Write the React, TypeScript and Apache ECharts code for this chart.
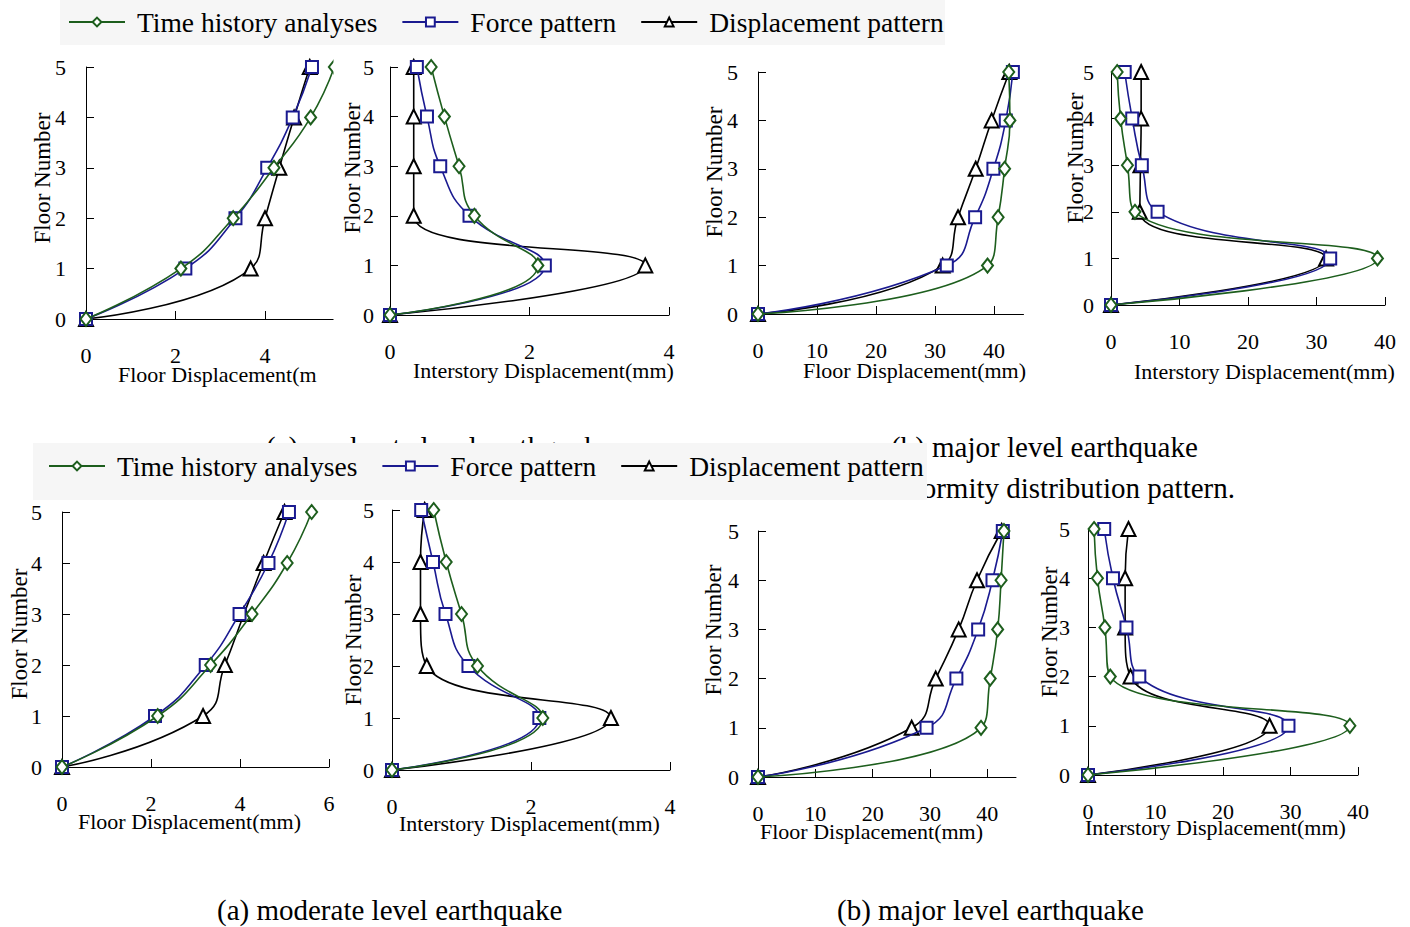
import React, { useEffect, useRef } from 'react';
import * as echarts from 'echarts';

const FLOORS = [0, 1, 2, 3, 4, 5];
const SERIES_NAMES = ['Time history analyses', 'Force pattern', 'Displacement pattern'];

// upper figure – moderate level earthquake
const upModFloorTime = [0, 2.12, 3.29, 4.2, 5.02, 5.55];
const upModFloorForce = [0, 2.22, 3.34, 4.05, 4.62, 5.05];
const upModFloorDisp = [0, 3.68, 4.0, 4.32, 4.65, 5.0];
const upModStoryTime = [0, 2.12, 1.21, 0.99, 0.78, 0.59];
const upModStoryForce = [0, 2.22, 1.14, 0.72, 0.53, 0.385];
const upModStoryDisp = [0, 3.66, 0.34, 0.34, 0.34, 0.34];
// upper figure – major level earthquake
const upMajFloorTime = [0, 38.9, 40.7, 41.8, 42.7, 42.5];
const upMajFloorForce = [0, 32.0, 36.8, 39.9, 42.0, 43.2];
const upMajFloorDisp = [0, 31.3, 33.9, 36.9, 39.6, 42.6];
const upMajStoryTime = [0, 38.9, 3.5, 2.4, 1.4, 0.9];
const upMajStoryForce = [0, 32.0, 6.8, 4.5, 3.1, 2.0];
const upMajStoryDisp = [0, 31.4, 4.2, 4.3, 4.4, 4.4];
// lower figure – moderate level earthquake
const loModFloorTime = [0, 2.15, 3.34, 4.27, 5.06, 5.61];
const loModFloorForce = [0, 2.09, 3.23, 3.99, 4.64, 5.1];
const loModFloorDisp = [0, 3.17, 3.66, 4.09, 4.53, 5.0];
const loModStoryTime = [0, 2.17, 1.23, 1.0, 0.78, 0.6];
const loModStoryForce = [0, 2.12, 1.1, 0.77, 0.59, 0.42];
const loModStoryDisp = [0, 3.15, 0.5, 0.41, 0.41, 0.47];
// lower figure – major level earthquake
const loMajFloorTime = [0, 38.9, 40.5, 41.8, 42.4, 42.9];
const loMajFloorForce = [0, 29.4, 34.6, 38.4, 40.9, 42.7];
const loMajFloorDisp = [0, 26.8, 31.0, 35.0, 38.2, 42.5];
const loMajStoryTime = [0, 38.8, 3.3, 2.5, 1.4, 0.9];
const loMajStoryForce = [0, 29.7, 7.6, 5.7, 3.7, 2.4];
const loMajStoryDisp = [0, 26.9, 6.3, 5.5, 5.5, 6.0];

const MOD4_TICKS = [0, 2, 4];
const MOD6_TICKS = [0, 2, 4, 6];
const MAJ_TICKS = [0, 10, 20, 30, 40];

const X_TITLE_FLOOR = 'Floor Displacement(mm)';
const X_TITLE_FLOOR_CUT = 'Floor Displacement(m';
const X_TITLE_STORY = 'Interstory Displacement(mm)';
const Y_TITLE = 'Floor Number';
const CAPTION_A = '(a) moderate level earthquake';
const CAPTION_B = '(b) major level earthquake';
const CAPTION_TAIL = 'ormity distribution pattern.';

const FONT = 'Liberation Serif';
const COLORS = ['#1d5e1d', '#1a1a90', '#000000'];
const SYMBOLS = ['emptyDiamond', 'emptyRect', 'emptyTriangle'];
const SYMBOL_SIZES: any[] = [[11, 14], 12, 14];

const PANELS = [
  { data: [upModFloorTime, upModFloorForce, upModFloorDisp], ticks: MOD4_TICKS, max: 6, interval: 2,
    box: [86, 67, 268.5, 252], yMargin: 20, yTitle: [42, 178], xTitle: [X_TITLE_FLOOR_CUT, 118, 374] },
  { data: [upModStoryTime, upModStoryForce, upModStoryDisp], ticks: MOD4_TICKS, max: 4, interval: 2,
    box: [390, 67, 279, 248], yMargin: 16, yTitle: [352, 168], xTitle: [X_TITLE_STORY, 413, 370] },
  { data: [upMajFloorTime, upMajFloorForce, upMajFloorDisp], ticks: MAJ_TICKS, max: 45, interval: 10,
    box: [758, 72, 265.5, 242], yMargin: 20, yTitle: [714, 172], xTitle: [X_TITLE_FLOOR, 803, 370] },
  { data: [upMajStoryTime, upMajStoryForce, upMajStoryDisp], ticks: MAJ_TICKS, max: 40, interval: 10,
    box: [1111, 72, 274, 233], yMargin: 17, yTitle: [1075, 158], xTitle: [X_TITLE_STORY, 1134, 371] },
  { data: [loModFloorTime, loModFloorForce, loModFloorDisp], ticks: MOD6_TICKS, max: 6, interval: 2,
    box: [62, 512, 267, 255], yMargin: 20, yTitle: [19, 634], xTitle: [X_TITLE_FLOOR, 78, 821] },
  { data: [loModStoryTime, loModStoryForce, loModStoryDisp], ticks: MOD4_TICKS, max: 4, interval: 2,
    box: [392, 510, 278, 260], yMargin: 18, yTitle: [353, 640], xTitle: [X_TITLE_STORY, 399, 823] },
  { data: [loMajFloorTime, loMajFloorForce, loMajFloorDisp], ticks: MAJ_TICKS, max: 45, interval: 10,
    box: [758, 531, 258, 246], yMargin: 19, yTitle: [713, 630], xTitle: [X_TITLE_FLOOR, 760, 831] },
  { data: [loMajStoryTime, loMajStoryForce, loMajStoryDisp], ticks: MAJ_TICKS, max: 40, interval: 10,
    box: [1088, 529, 270, 246], yMargin: 18, yTitle: [1049, 632], xTitle: [X_TITLE_STORY, 1085, 827] },
];

function txt(text: string, x: number, y: number, size: number, align = 'left', z = 1, rotation = 0) {
  return {
    type: 'text', x, y, z, rotation,
    style: { text, fontFamily: FONT, fontSize: size, fill: '#000', align, verticalAlign: 'middle' },
  };
}

export default function App() {
  const ref = useRef<HTMLDivElement>(null);
  useEffect(() => {
    if (!ref.current) return;
    const chart = echarts.init(ref.current, undefined, { renderer: 'svg' });

    const grid = PANELS.map((p) => ({ left: p.box[0], top: p.box[1], width: p.box[2], height: p.box[3] }));
    const xAxis = PANELS.map((p, i) => ({
      type: 'value', gridIndex: i, min: 0, max: p.max, interval: p.interval,
      axisLine: { show: true, onZero: false, lineStyle: { color: '#000', width: 1 } },
      axisTick: { show: true, inside: true, length: 8, lineStyle: { color: '#000' }, customValues: p.ticks },
      axisLabel: {
        customValues: p.ticks, margin: 25, fontFamily: FONT, fontSize: 22, color: '#000',
        formatter: (v: number) => (p.ticks.indexOf(v) >= 0 ? String(v) : ''),
      },
      splitLine: { show: false },
    }));
    const yAxis = PANELS.map((p, i) => ({
      type: 'value', gridIndex: i, min: 0, max: 5, interval: 1,
      axisLine: { show: true, onZero: false, lineStyle: { color: '#000', width: 1 } },
      axisTick: { show: true, inside: true, length: 8, lineStyle: { color: '#000' } },
      axisLabel: { margin: p.yMargin, fontFamily: FONT, fontSize: 22, color: '#000' },
      splitLine: { show: false },
    }));
    const series: any[] = [];
    PANELS.forEach((p, i) => {
      p.data.forEach((vals, k) => {
        series.push({
          type: 'line', name: SERIES_NAMES[k], xAxisIndex: i, yAxisIndex: i,
          data: FLOORS.map((f, j) => [vals[j], f]),
          smooth: 0.5, clip: false,
          symbol: SYMBOLS[k], symbolSize: SYMBOL_SIZES[k],
          lineStyle: { color: COLORS[k], width: 1.6 },
          itemStyle: { color: COLORS[k], borderWidth: 1.6 },
          z: 2 + (2 - k),
        });
      });
    });

    const legendBase = {
      data: SERIES_NAMES, padding: 0, itemWidth: 56, itemHeight: 11, itemGap: 24,
      textStyle: { fontFamily: FONT, fontSize: 27.5, color: '#000', padding: [0, 0, 0, 7], lineHeight: 30 },
      z: 10,
    };

    const graphic: any[] = [
      { type: 'rect', z: 0, shape: { x: 60, y: 0, width: 885, height: 45 }, style: { fill: '#f6f6f6' } },
      txt(CAPTION_A, 266, 447, 29, 'left', 1),
      txt(CAPTION_B, 891, 447, 29, 'left', 1),
      txt(CAPTION_TAIL, 1235, 488, 29, 'right', 1),
      { type: 'rect', z: 3, shape: { x: 33, y: 443, width: 894, height: 57 }, style: { fill: '#f6f6f6' } },
      txt(CAPTION_A, 217, 910, 29, 'left', 1),
      txt(CAPTION_B, 837, 910, 29, 'left', 1),
      { type: 'rect', z: 7, shape: { x: 333.5, y: 50, width: 23, height: 345 }, style: { fill: '#ffffff' } },
    ];
    PANELS.forEach((p) => {
      graphic.push(txt(Y_TITLE, p.yTitle[0], p.yTitle[1], 23, 'center', 8, Math.PI / 2));
      graphic.push(txt(p.xTitle[0] as string, p.xTitle[1] as number, p.xTitle[2] as number, 22, 'left', 8));
    });

    chart.setOption({
      animation: false,
      backgroundColor: '#ffffff',
      grid, xAxis, yAxis, series,
      legend: [
        { ...legendBase, left: 68, top: 7 },
        { ...legendBase, left: 48, top: 451 },
      ],
      graphic,
    });
    return () => chart.dispose();
  }, []);
  return (
    <div style={{ position: 'absolute', left: 0, top: 0, width: 1410, height: 927, background: '#fff' }}>
      <div ref={ref} style={{ width: 1410, height: 927 }} />
    </div>
  );
}
